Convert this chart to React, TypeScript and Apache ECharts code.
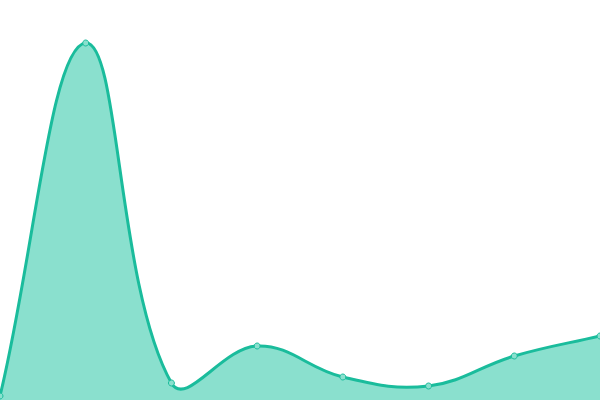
import React, { useEffect, useRef } from 'react';
import * as echarts from 'echarts';

// 数据
const categories = ['1', '2', '3', '4', '5', '6', '7', '8'];
const values = [4, 357, 17, 54, 23, 14, 44, 64];

const lineColor = '#1abc9c';
const fillColor = '#8ae0ce';
const tension = 0.4;

// 曲线控制点 (cardinal spline, 不做裁剪)
const buildCurve = (pts: number[][]) => {
  let d = `M${pts[0][0]},${pts[0][1]}`;
  const cps = pts.map((cur, i) => {
    const prev = pts[i - 1] || cur;
    const next = pts[i + 1] || cur;
    const d01 = Math.hypot(cur[0] - prev[0], cur[1] - prev[1]);
    const d12 = Math.hypot(next[0] - cur[0], next[1] - cur[1]);
    const sum = d01 + d12 || 1;
    const fa = (tension * d01) / sum;
    const fb = (tension * d12) / sum;
    return {
      prev: [cur[0] - fa * (next[0] - prev[0]), cur[1] - fa * (next[1] - prev[1])],
      next: [cur[0] + fb * (next[0] - prev[0]), cur[1] + fb * (next[1] - prev[1])],
    };
  });
  for (let i = 1; i < pts.length; i++) {
    const c1 = cps[i - 1].next;
    const c2 = cps[i].prev;
    d += ` C${c1[0]},${c1[1]} ${c2[0]},${c2[1]} ${pts[i][0]},${pts[i][1]}`;
  }
  return d;
};

const App: React.FC = () => {
  const chartRef = useRef<HTMLDivElement>(null);

  useEffect(() => {
    if (!chartRef.current) return;
    const chart = echarts.init(chartRef.current, undefined, { renderer: 'svg' });
    chart.setOption({
      animation: false,
      grid: { left: 0, right: 0, top: 0, bottom: 0 },
      xAxis: {
        type: 'category',
        data: categories,
        boundaryGap: false,
        show: false,
      },
      yAxis: {
        type: 'value',
        min: 0,
        max: 400,
        show: false,
      },
      series: [
        {
          type: 'custom',
          data: values.map((v, i) => [i, v]),
          clip: false,
          renderItem: (params: any, api: any) => {
            if (params.dataIndex !== 0) return null;
            const pts = values.map((v, i) => api.coord([i, v]));
            const bottom = api.coord([0, 0])[1];
            const curve = buildCurve(pts);
            const last = pts[pts.length - 1];
            const area = `${curve} L${last[0]},${bottom} L${pts[0][0]},${bottom} Z`;
            return {
              type: 'group',
              children: [
                {
                  type: 'path',
                  shape: { pathData: area },
                  style: { fill: fillColor, stroke: null },
                },
                {
                  type: 'path',
                  shape: { pathData: curve },
                  style: { fill: null, stroke: lineColor, lineWidth: 3 },
                },
              ],
            };
          },
        },
        {
          type: 'line',
          data: values,
          symbol: 'circle',
          symbolSize: 6,
          lineStyle: { opacity: 0 },
          itemStyle: { color: fillColor, borderColor: lineColor, borderWidth: 1 },
          z: 3,
        },
      ],
    });
    return () => {
      chart.dispose();
    };
  }, []);

  return (
    <div
      ref={chartRef}
      style={{ position: 'absolute', left: 0, top: 0, width: '600px', height: '400px' }}
    ></div>
  );
};

export default App;
